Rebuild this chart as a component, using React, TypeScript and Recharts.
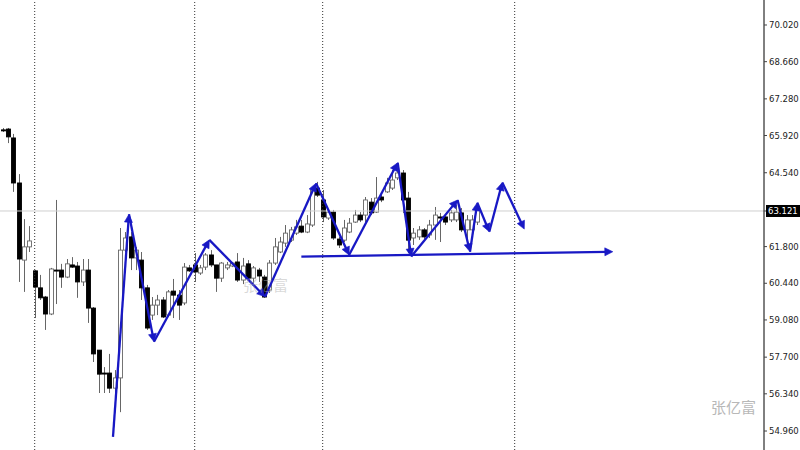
import React from 'react';
import { ComposedChart, Bar, XAxis, YAxis, ReferenceLine } from 'recharts';

const opens = [
  66.13, 66.16, 65.83, 64.16, 61.30, 61.79, 60.90, 60.27, 59.93, 59.30,
  60.93, 60.93, 60.67, 61.12, 61.08, 60.49, 60.93, 59.52, 57.96, 57.11,
  57.11, 56.55, 56.93, 61.67, 62.16, 61.38, 61.30, 60.27, 59.26, 59.63,
  59.82, 59.26, 60.15, 60.00, 59.71, 61.01, 61.12, 60.82, 61.04, 61.49,
  61.12, 60.63, 61.01, 61.08, 61.23, 60.56, 61.16, 60.63, 60.93, 60.67,
  60.19, 61.19, 61.60, 61.93, 62.04, 62.30, 62.56, 62.34, 62.60, 63.97,
  63.53, 62.86, 63.08, 62.08, 62.04, 62.34, 62.71, 62.97, 62.97, 63.45,
  63.08, 63.64, 63.83, 63.97, 64.35, 64.53, 63.60, 62.12, 62.16, 62.42,
  62.23, 62.60, 62.90, 62.90, 62.79, 62.79, 63.05, 62.42, 62.42, 62.71,
];
const highs = [
  66.20, 66.20, 65.98, 64.49, 62.82, 62.56, 60.93, 60.75, 59.97, 61.01,
  63.53, 61.16, 61.34, 61.41, 61.23, 61.34, 61.34, 59.56, 57.96, 57.33,
  57.82, 57.22, 62.49, 62.34, 62.34, 61.79, 61.60, 60.38, 59.93, 60.01,
  59.93, 60.19, 60.60, 60.19, 61.19, 61.12, 61.56, 61.12, 61.56, 61.67,
  61.12, 61.23, 61.23, 61.23, 61.56, 61.38, 61.30, 61.08, 61.01, 60.75,
  61.30, 62.12, 62.16, 62.60, 62.53, 62.79, 62.79, 62.97, 64.01, 64.20,
  63.90, 63.16, 63.16, 62.16, 62.79, 62.86, 63.16, 63.08, 63.64, 63.60,
  64.38, 63.79, 64.35, 64.64, 64.71, 64.64, 63.83, 62.49, 62.56, 62.49,
  62.79, 63.27, 63.05, 62.97, 63.16, 63.34, 63.23, 62.97, 62.97, 63.34,
];
const lows = [
  66.05, 65.64, 63.83, 60.49, 60.12, 61.60, 59.15, 59.82, 58.71, 59.26,
  59.67, 60.27, 60.63, 61.01, 59.90, 60.34, 58.97, 57.52, 56.37, 56.37,
  56.37, 56.30, 55.66, 61.60, 60.93, 60.93, 59.82, 58.71, 59.08, 59.26,
  59.15, 59.19, 59.15, 59.08, 59.63, 60.86, 60.49, 60.75, 60.93, 61.04,
  60.12, 60.49, 60.93, 61.04, 60.49, 60.41, 60.56, 60.45, 60.49, 59.90,
  60.08, 61.12, 61.56, 61.79, 61.97, 62.23, 62.30, 62.30, 62.53, 63.64,
  62.71, 62.79, 62.05, 61.75, 61.97, 62.30, 62.68, 62.71, 62.71, 62.97,
  63.05, 63.45, 63.79, 63.90, 64.27, 63.05, 61.56, 61.86, 62.05, 62.05,
  62.12, 62.05, 61.97, 62.60, 62.71, 62.71, 62.34, 61.86, 62.23, 62.60,
];
const closes = [
  66.12, 65.87, 64.16, 61.34, 61.79, 62.01, 60.30, 59.90, 59.30, 60.97,
  60.91, 60.67, 61.16, 61.04, 60.49, 60.93, 59.52, 57.82, 57.07, 57.09,
  56.55, 56.93, 61.67, 62.12, 61.38, 61.67, 60.27, 58.78, 59.63, 59.82,
  59.19, 60.12, 60.00, 59.63, 61.04, 60.90, 60.86, 61.01, 61.49, 61.12,
  60.63, 61.19, 61.12, 61.19, 60.56, 61.08, 60.63, 61.01, 60.71, 59.93,
  61.19, 61.79, 61.97, 62.30, 62.42, 62.53, 62.34, 62.64, 63.90, 63.71,
  62.90, 63.08, 62.12, 61.86, 62.49, 62.67, 62.97, 62.79, 63.53, 63.05,
  63.60, 63.53, 64.16, 64.27, 64.53, 63.53, 62.04, 62.30, 62.42, 62.16,
  62.60, 62.97, 62.86, 62.71, 63.05, 63.08, 62.42, 62.79, 62.79, 63.23,
];

const priceTicks = [54.96, 56.34, 57.7, 59.08, 60.44, 61.8, 63.121, 64.54, 65.92, 67.28, 68.66, 70.02];
const lastPrice = 63.121;
const sessionBreaks = [6, 36, 60, 96];

// wave annotation vertices (bar index, price)
const waveX = [20.68, 23.68, 28.37, 38.74, 49.2, 58.75, 64.95, 74.06, 76.6, 85.3, 87.62, 88.99, 91.24, 93.68, 97.8];
const waveY = [54.74, 63.0, 58.27, 62.05, 59.94, 64.15, 61.49, 64.91, 61.43, 63.53, 61.61, 63.43, 62.35, 64.18, 62.45];
// support line (bar index, price)
const supportX = [56.0, 114.4];
const supportY = [61.43, 61.61];

const BLUE = '#1818c4';

const data = opens.map((o, i) => ({
  idx: i,
  open: o,
  high: highs[i],
  low: lows[i],
  close: closes[i],
  range: [lows[i], highs[i]],
}));

const Candle = (props: any) => {
  const { x, y, width, height, payload } = props;
  if (x == null || y == null) return null;
  const { open, close, high, low } = payload;
  const top0 = Math.min(y, y + height);
  const h = Math.abs(height);
  const cx = Math.round(x + width / 2) + 0.5;
  const span = high - low || 1;
  const py = (p: number) => top0 + ((high - p) / span) * h;
  const bTop = py(Math.max(open, close));
  const bBot = py(Math.min(open, close));
  const up = close > open;
  return (
    <g>
      <line x1={cx} x2={cx} y1={top0} y2={top0 + h} stroke="#666" strokeWidth={1} />
      <rect
        x={cx - 2}
        y={bTop}
        width={4}
        height={Math.max(bBot - bTop, 1)}
        fill={up ? '#ffffff' : '#000000'}
        stroke={up ? '#666' : '#000'}
        strokeWidth={0.9}
      />
    </g>
  );
};

const arrowShape = (props: any) => {
  const { x1, y1, x2, y2 } = props;
  const dx = x2 - x1;
  const dy = y2 - y1;
  const len = Math.hypot(dx, dy) || 1;
  const ux = dx / len;
  const uy = dy / len;
  const L = 8;
  const W = 4;
  const bx = x2 - ux * L;
  const by = y2 - uy * L;
  const pts = `${x2},${y2} ${bx - uy * W},${by + ux * W} ${bx + uy * W},${by - ux * W}`;
  return (
    <g>
      <line x1={x1} y1={y1} x2={bx + ux * 2} y2={by + uy * 2} stroke={BLUE} strokeWidth={2.3} />
      <polygon points={pts} fill={BLUE} stroke={BLUE} strokeWidth={0.6} strokeLinejoin="round" />
    </g>
  );
};

const PriceTick = (props: any) => {
  const { x, y, payload } = props;
  const v = payload.value as number;
  const label = v.toFixed(3);
  if (Math.abs(v - lastPrice) < 1e-6) {
    return (
      <g>
        <rect x={x - 3} y={y - 6} width={40} height={12} fill="#000" />
        <text x={x - 1} y={y + 3} fill="#fff" fontSize={8.5} fontFamily="DejaVu Sans">
          {label}
        </text>
      </g>
    );
  }
  return (
    <text x={x} y={y + 3} fill="#222" fontSize={8.5} fontFamily="DejaVu Sans">
      {label}
    </text>
  );
};

export default function App() {
  const waveSegments = waveX.slice(1).map((xv, i) => ({
    a: { x: waveX[i], y: waveY[i] },
    b: { x: xv, y: waveY[i + 1] },
  }));
  return (
    <div style={{ position: 'absolute', left: 0, top: 0, width: 800, height: 450, overflow: 'hidden', background: '#fff' }}>
      <ComposedChart width={800} height={450} data={data} margin={{ top: 0, right: 0, bottom: 0, left: 0 }}>
        <XAxis dataKey="idx" type="number" domain={[-0.506, 142.75]} allowDataOverflow hide />
        <YAxis
          orientation="right"
          type="number"
          width={36}
          domain={[54.256, 70.947]}
          allowDataOverflow
          ticks={priceTicks}
          interval={0}
          tick={<PriceTick />}
          tickSize={3}
          tickMargin={2}
          tickLine={{ stroke: '#444' }}
          axisLine={{ stroke: '#000' }}
        />
        {sessionBreaks.map((b) => (
          <ReferenceLine key={`s${b}`} x={b} stroke="#333" strokeDasharray="1 2" />
        ))}
        <ReferenceLine y={lastPrice} stroke="#cfcfcf" strokeWidth={1} />
        <Bar dataKey="range" barSize={5} shape={<Candle />} isAnimationActive={false} />
        {waveSegments.map((s, i) => (
          <ReferenceLine key={`w${i}`} segment={[s.a, s.b]} shape={arrowShape} ifOverflow="visible" />
        ))}
        <ReferenceLine
          segment={[
            { x: supportX[0], y: supportY[0] },
            { x: supportX[1], y: supportY[1] },
          ]}
          shape={arrowShape}
          ifOverflow="visible"
        />
      </ComposedChart>
      <div
        style={{
          position: 'absolute',
          left: 243,
          top: 274,
          fontSize: 15,
          color: 'rgba(170,170,170,0.45)',
          fontFamily: '"Noto Sans CJK SC", sans-serif',
          pointerEvents: 'none',
        }}
      >
        张亿富
      </div>
      <div
        style={{
          position: 'absolute',
          left: 711,
          top: 396,
          fontSize: 15,
          color: '#b8b8b8',
          fontFamily: '"Noto Sans CJK SC", sans-serif',
          pointerEvents: 'none',
        }}
      >
        张亿富
      </div>
    </div>
  );
}
